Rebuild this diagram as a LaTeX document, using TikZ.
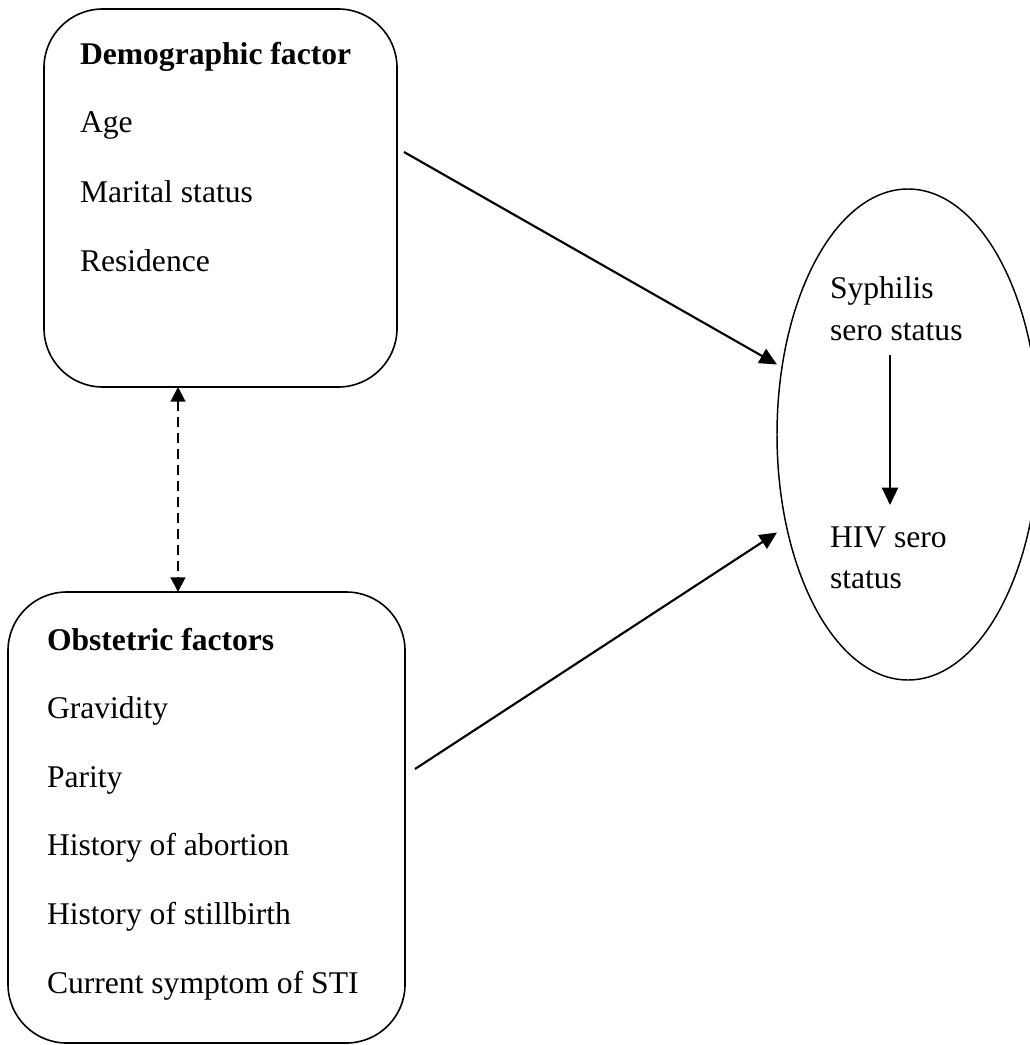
\documentclass[tikz,border=0pt]{standalone}
\usepackage{fontspec}
\setmainfont{Liberation Serif}
\usetikzlibrary{arrows.meta,calc,shapes.geometric}
\begin{document}
\begin{tikzpicture}[x=0.75pt,y=-0.75pt,
  box/.style={draw,line width=1.2pt,rounded corners=44pt,inner sep=0pt,outer sep=0pt},
  txt/.style={anchor=base west,inner sep=0pt,outer sep=0pt,font=\fontsize{23.7pt}{28pt}\selectfont},
  arr/.style={line width=1.6pt,-{Triangle[length=13pt,width=12pt]}},
  darr/.style={line width=1.6pt,dash pattern=on 7.5pt off 4.5pt,{Triangle[length=11pt,width=11pt]}-{Triangle[length=11pt,width=11pt]}}]
\useasboundingbox (0,0) rectangle (1029,1045);
% boxes
\node[box,minimum width=264.75pt,minimum height=283.5pt] (d) at (220.5,198) {};
\node[box,minimum width=297.75pt,minimum height=338.25pt] (o) at (206.5,817.5) {};
\node[draw,ellipse,line width=1.1pt,inner sep=0pt,outer sep=0pt,minimum width=196.5pt,minimum height=368.25pt] (e) at (908,434.5) {};
% demographic texts
\node[txt,font=\fontsize{23.7pt}{28pt}\selectfont\bfseries] (d0) at (80,65) {Demographic factor};
\node[txt] (d1) at (80,133) {Age};
\node[txt] (d2) at (80,202) {Marital status};
\node[txt] (d3) at (80,271) {Residence};
% obstetric texts
\node[txt,font=\fontsize{23.7pt}{28pt}\selectfont\bfseries] (o0) at (47,650) {Obstetric factors};
\node[txt] (o1) at (47,718.6) {Gravidity};
\node[txt] (o2) at (47,787) {Parity};
\node[txt] (o3) at (47,855.8) {History of abortion};
\node[txt] (o4) at (47,924.4) {History of stillbirth};
\node[txt] (o5) at (47,993) {Current symptom of STI};
% ellipse texts
\node[txt] (s1) at (830,298) {Syphilis};
\node[txt] (s2) at (830,340) {sero status};
\node[txt] (h1) at (830,547) {HIV sero};
\node[txt] (h2) at (830,588) {status};
% connectors
\draw[arr] ($(d.east)+(7,-46)$) -- ($(e.west)+(0,-70)$);
\draw[arr] ($(o.east)+(10,-48.5)$) -- ($(e.west)+(0,98)$);
\draw[arr] ($(e.center)+(-18,-79.5)$) -- ($(e.center)+(-18,70.5)$);
\draw[darr] ($(d.south)+(-42.5,0)$) -- ($(o.north)+(-28.5,0)$);
\end{tikzpicture}
\end{document}
